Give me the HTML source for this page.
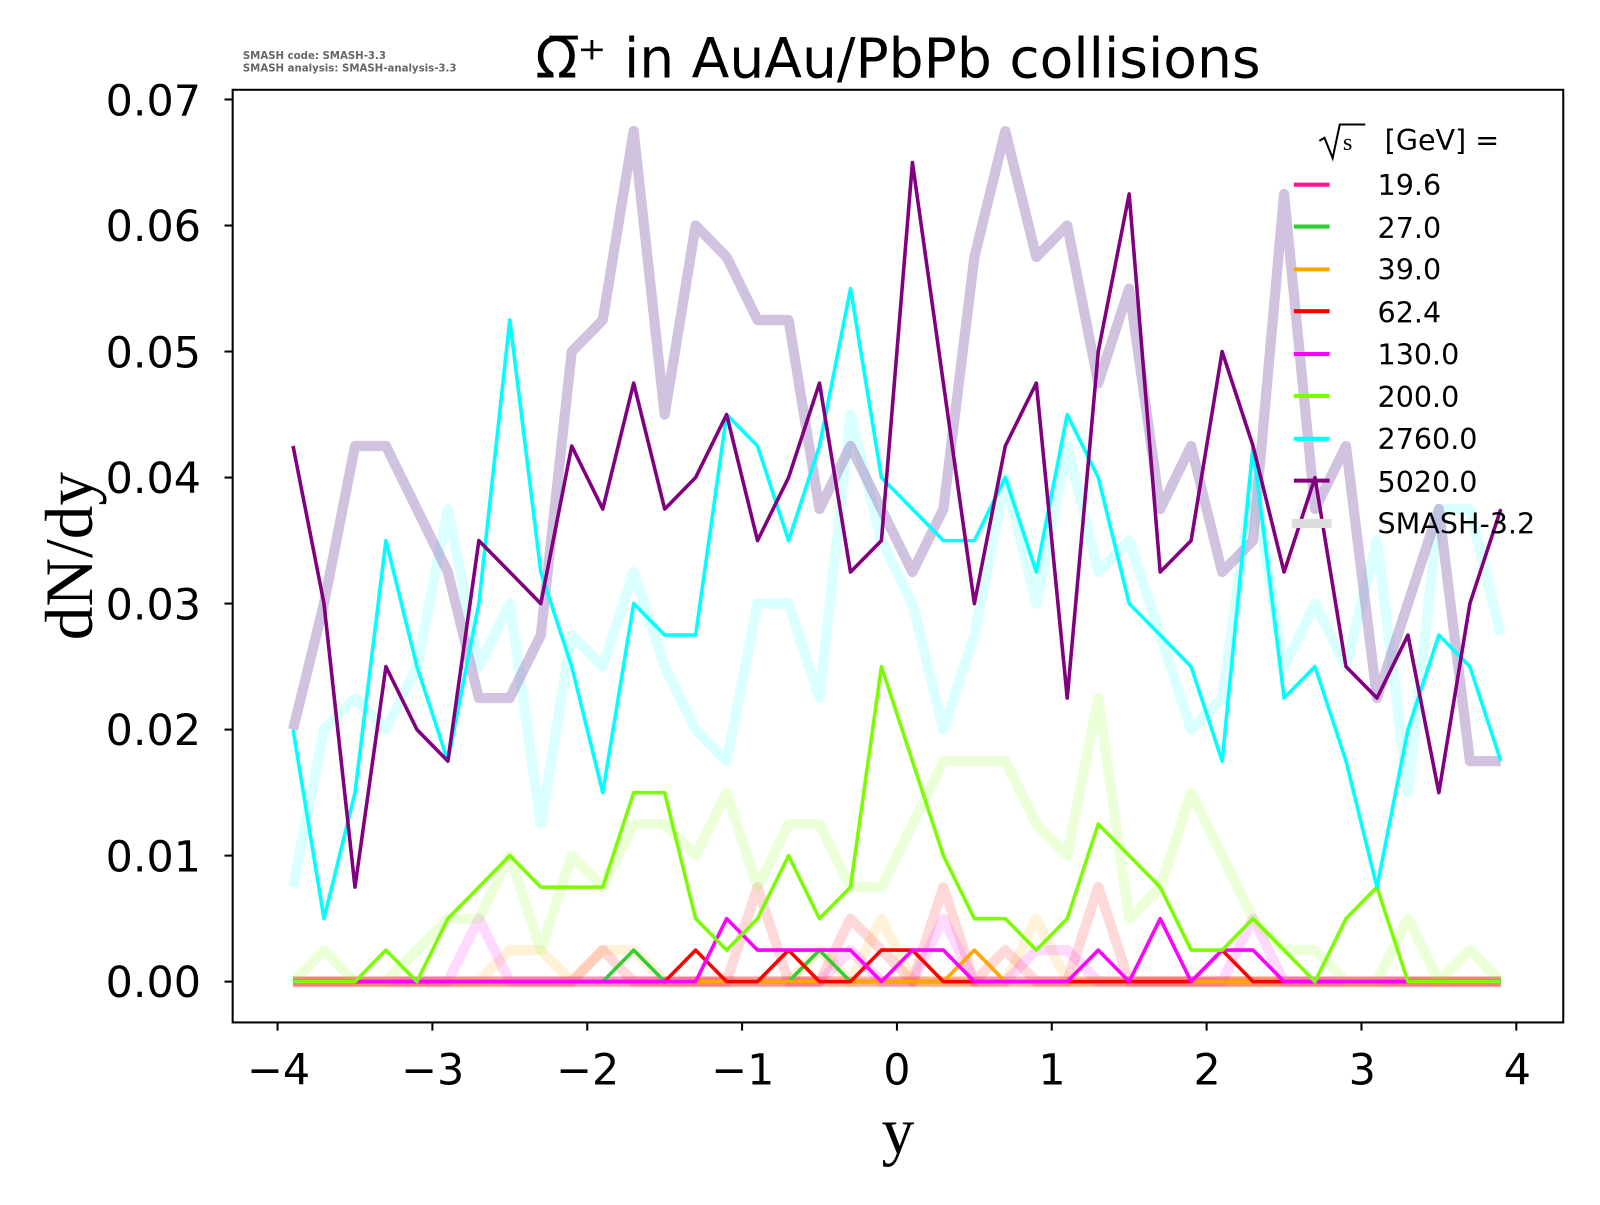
<!DOCTYPE html>
<html><head><meta charset="utf-8"><style>
body{margin:0;background:#fff}
svg text{font-family:"DejaVu Sans","Liberation Sans",sans-serif}
</style></head><body>
<svg width="1600" height="1200" viewBox="0 0 1600 1200" xmlns="http://www.w3.org/2000/svg">
<rect width="1600" height="1200" fill="#fff"/>
<g transform="scale(1.0204)">
<g id="plot"></g>
<rect x="228" y="88" width="1304" height="914" fill="none" stroke="#000" stroke-width="2"/>
<g id="ticks" stroke="#000" stroke-width="2"></g>
<g font-size="42" fill="#000" text-anchor="end">
<text x="197" y="977">0.00</text><text x="197" y="854">0.01</text><text x="197" y="730">0.02</text><text x="197" y="607">0.03</text><text x="197" y="483">0.04</text><text x="197" y="360">0.05</text><text x="197" y="236">0.06</text><text x="197" y="113">0.07</text>
</g>
<g font-size="42" fill="#000" text-anchor="middle">
<text x="273" y="1063">−4</text><text x="424" y="1063">−3</text><text x="576" y="1063">−2</text><text x="728" y="1063">−1</text><text x="879" y="1063">0</text><text x="1031" y="1063">1</text><text x="1183" y="1063">2</text><text x="1335" y="1063">3</text><text x="1487" y="1063">4</text>
</g>
<text x="880" y="1130" font-size="64" text-anchor="middle" style="font-family:'Liberation Serif',serif">y</text>
<text transform="translate(90,545) rotate(-90)" font-size="66" text-anchor="middle" style="font-family:'Liberation Serif',serif">dN/dy</text>
<text x="880" y="76" font-size="54" text-anchor="middle">Ω̅⁺ in AuAu/PbPb collisions</text>
<text x="238" y="58" font-size="10" fill="#666" font-weight="bold">SMASH code:      SMASH-3.3</text>
<text x="238" y="70" font-size="10" fill="#666" font-weight="bold">SMASH analysis: SMASH-analysis-3.3</text>
<g font-size="28" fill="#000">
<path d="M1293,138 L1298,135 L1306,155 L1313,122 L1338,122" fill="none" stroke="#000" stroke-width="2"/>
<text x="1316" y="147" style="font-family:'Liberation Serif',serif" font-size="24">s</text>
<text x="1357" y="147">[GeV] =</text>
<text x="1350" y="191">19.6</text><text x="1350" y="233">27.0</text><text x="1350" y="274">39.0</text><text x="1350" y="316">62.4</text><text x="1350" y="357">130.0</text><text x="1350" y="399">200.0</text><text x="1350" y="440">2760.0</text><text x="1350" y="482">5020.0</text><text x="1350" y="523">SMASH-3.2</text>
</g>
<g stroke-width="4">
<line x1="1268" x2="1303" y1="181" y2="181" stroke="#ff1493"/>
<line x1="1268" x2="1303" y1="222" y2="222" stroke="#32cd32"/>
<line x1="1268" x2="1303" y1="264" y2="264" stroke="#ffa500"/>
<line x1="1268" x2="1303" y1="305" y2="305" stroke="#ff0000"/>
<line x1="1268" x2="1303" y1="347" y2="347" stroke="#ff00ff"/>
<line x1="1268" x2="1303" y1="388" y2="388" stroke="#7cfc00"/>
<line x1="1268" x2="1303" y1="430" y2="430" stroke="#00ffff"/>
<line x1="1268" x2="1303" y1="471" y2="471" stroke="#800080"/>
<line x1="1266" x2="1305" y1="513" y2="513" stroke="#ddd" stroke-width="9"/>
</g>
</g>
</svg>
<script>
(function(){
var X=function(v){return 879+151.75*v},Y=function(v){return 962-12350*v};
var ys=[];for(var i=0;i<40;i++)ys.push(-3.9+0.2*i);
function z(){var a=[];for(var i=0;i<40;i++)a.push(0);return a}
function set(a,o){for(var k in o){a[Math.round((parseFloat(k)+3.9)/0.2)]=o[k]}return a}
var P3=[.02,.03,.0425,.0425,.0375,.0325,.0225,.0225,.0275,.05,.0525,.0675,.045,.06,.0575,.0525,.0525,.0375,.0425,.0375,.0325,.0375,.0575,.0675,.0575,.06,.0475,.055,.0375,.0425,.0325,.035,.0625,.0375,.0425,.0225,.03,.0375,.0175,.0175];
var P=[.0425,.03,.0075,.025,.02,.0175,.035,.0325,.03,.0425,.0375,.0475,.0375,.04,.045,.035,.04,.0475,.0325,.035,.065,.0475,.03,.0425,.0475,.0225,.05,.0625,.0325,.035,.05,.0425,.0325,.04,.025,.0225,.0275,.015,.03,.0375];
var C=[.02,.005,.015,.035,.025,.0175,.03,.0525,.0325,.025,.015,.03,.0275,.0275,.045,.0425,.035,.0425,.055,.04,.0375,.035,.035,.04,.0325,.045,.04,.03,.0275,.025,.0175,.0425,.0225,.025,.0175,.0075,.02,.0275,.025,.0175];
var C3=[.0075,.02,.0225,.02,.025,.0375,.025,.03,.0125,.0275,.025,.0325,.025,.02,.0175,.03,.03,.0225,.045,.035,.03,.02,.0275,.04,.03,.0425,.0325,.035,.0275,.02,.0225,.04,.025,.03,.025,.035,.015,.0375,.0375,.0275];
var G=[0,0,0,.0025,0,.005,.0075,.01,.0075,.0075,.0075,.015,.015,.005,.0025,.005,.01,.005,.0075,.025,.0175,.01,.005,.005,.0025,.005,.0125,.01,.0075,.0025,.0025,.005,.0025,0,.005,.0075,0,0,0,0];
var G3=[0,.0025,0,0,.0025,.005,.005,.01,.0025,.01,.0075,.0125,.0125,.01,.015,.0075,.0125,.0125,.0075,.0075,.0125,.0175,.0175,.0175,.0125,.01,.0225,.005,.0075,.015,.01,.005,.0025,.0025,0,0,.005,0,.0025,0];
var M=set(z(),{"-1.1":.005,"-0.9":.0025,"-0.7":.0025,"-0.5":.0025,"-0.3":.0025,"0.1":.0025,"0.3":.0025,"1.3":.0025,"1.7":.005,"2.1":.0025,"2.3":.0025});
var R=set(z(),{"-1.3":.0025,"-0.7":.0025,"-0.1":.0025,"0.1":.0025,"2.1":.0025});
var GR=set(z(),{"-1.7":.0025,"-0.5":.0025});
var O=set(z(),{"0.5":.0025});
var M3=set(z(),{"-2.7":.005,"-0.3":.0025,"0.3":.005,"0.9":.0025,"1.1":.0025,"2.3":.005});
var R3=set(z(),{"-0.9":.0075,"-0.3":.005,"0.3":.0075,"0.7":.0025,"1.3":.0075,"-1.9":.0025,"-0.1":.0025});
var O3=set(z(),{"-2.5":.0025,"-2.3":.0025,"-1.9":.0025,"-1.7":.0025,"-0.5":.0025,"-0.1":.005,"0.9":.005});
var g=document.getElementById('plot'),ns='http://www.w3.org/2000/svg';
function line(a,c,w,op){var p=document.createElementNS(ns,'polyline');p.setAttribute('points',a.map(function(v,i){return X(ys[i]).toFixed(1)+','+Y(v).toFixed(1)}).join(' '));p.setAttribute('fill','none');p.setAttribute('stroke',c);p.setAttribute('stroke-width',w);p.setAttribute('stroke-linejoin','round');if(op)p.setAttribute('stroke-opacity',op);g.appendChild(p)}
line(z(),'#ff1493',10,.3);line(z(),'#ffa500',10,.3);
line(O3,'#ffa500',10,.15);line(R3,'#ff0000',10,.15);line(M3,'#ff00ff',10,.15);
line(G3,'#7cfc00',10,.15);line(C3,'#00ffff',10,.15);line(P3,'#9a78b8',10,.45);
line(z(),'#ff1493',3.5);line(GR,'#32cd32',3.5);line(O,'#ffa500',3.5);line(R,'#ff0000',3.5);line(M,'#ff00ff',3.5);line(G,'#7cfc00',3.5);line(C,'#00ffff',3.5);line(P,'#800080',3.5);
var t=document.getElementById('ticks');
for(var k=0;k<8;k++){var l=document.createElementNS(ns,'line');var yy=Y(k*0.01);l.setAttribute('x1',220);l.setAttribute('x2',228);l.setAttribute('y1',yy);l.setAttribute('y2',yy);t.appendChild(l)}
for(var k=-4;k<=4;k++){var l=document.createElementNS(ns,'line');var xx=X(k);l.setAttribute('x1',xx);l.setAttribute('x2',xx);l.setAttribute('y1',1002);l.setAttribute('y2',1010);t.appendChild(l)}
})();
</script>
</body></html>
